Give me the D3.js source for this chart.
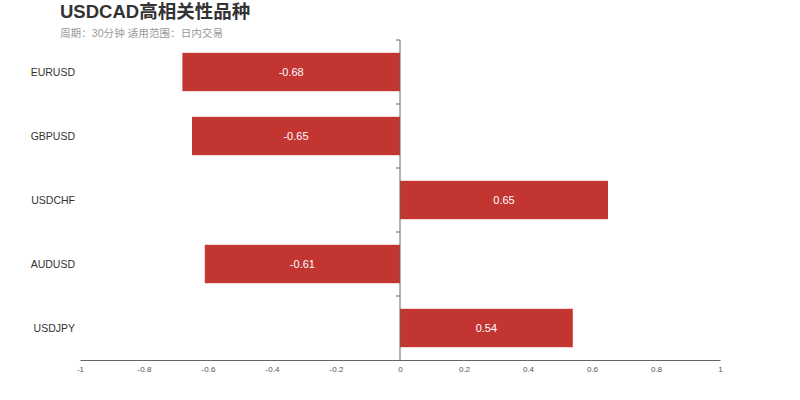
<!DOCTYPE html>
<html>
<head>
<meta charset="utf-8">
<script src="https://cdn.jsdelivr.net/npm/d3@7"></script>
<style>
  body { margin: 0; background: #fff; }
  svg { font-family: "Liberation Sans", Arial, "Noto Sans CJK SC", sans-serif; }
</style>
</head>
<body>
<svg id="chart" width="800" height="400"></svg>
<script>
// Chart values
const symbols = ["EURUSD", "GBPUSD", "USDCHF", "AUDUSD", "USDJPY"];
const correlations = [-0.68, -0.65, 0.65, -0.61, 0.54];
const xTicks = [-1, -0.8, -0.6, -0.4, -0.2, 0, 0.2, 0.4, 0.6, 0.8, 1];

const titleText = "USDCAD高相关性品种";
const subtitleText = "周期：30分钟 适用范围：日内交易";

const plotLeft = 80, plotRight = 720, plotTop = 40, plotBottom = 360;

const svg = d3.select("#chart");

const x = d3.scaleLinear().domain([-1, 1]).range([plotLeft, plotRight]);
const y = d3.scaleBand().domain(symbols).range([plotTop, plotBottom]).paddingInner(0.4).paddingOuter(0.2);

// Title
svg.append("text")
  .attr("x", 60).attr("y", 18)
  .attr("font-size", 18.5).attr("font-weight", "bold")
  .attr("fill", "#333")
  .text(titleText);

svg.append("text")
  .attr("x", 60).attr("y", 37)
  .attr("font-size", 10.6).attr("fill", "#999")
  .text(subtitleText);

// Bars
const rows = symbols.map((s, i) => ({ name: s, value: correlations[i] }));

svg.selectAll("rect.bar")
  .data(rows)
  .join("rect")
  .attr("class", "bar")
  .attr("x", d => x(Math.min(0, d.value)))
  .attr("y", d => y(d.name))
  .attr("width", d => Math.abs(x(d.value) - x(0)))
  .attr("height", y.bandwidth())
  .attr("fill", "#c23531");

svg.selectAll("text.val")
  .data(rows)
  .join("text")
  .attr("class", "val")
  .attr("x", d => (x(d.value) + x(0)) / 2)
  .attr("y", d => y(d.name) + y.bandwidth() / 2)
  .attr("dy", "0.35em")
  .attr("text-anchor", "middle")
  .attr("font-size", 11)
  .attr("fill", "#fff")
  .text(d => d.value);

// Category labels on the left
svg.selectAll("text.cat")
  .data(symbols)
  .join("text")
  .attr("class", "cat")
  .attr("x", 75)
  .attr("y", d => y(d) + y.bandwidth() / 2)
  .attr("dy", "0.35em")
  .attr("text-anchor", "end")
  .attr("font-size", 10.5)
  .attr("fill", "#333")
  .text(d => d);

// X axis (plain hyphen minus signs like the reference)
const xAxis = svg.append("g")
  .attr("transform", `translate(0,${plotBottom})`)
  .call(d3.axisBottom(x).tickValues(xTicks).tickSize(0).tickPadding(6).tickFormat(d => String(d)));
xAxis.select(".domain").attr("stroke", "#666");
xAxis.selectAll("text").attr("font-size", 8).attr("fill", "#555").attr("font-family", null);

// Y axis at zero with ticks at band boundaries
const boundaries = d3.range(symbols.length).map(i => plotTop + i * (plotBottom - plotTop) / symbols.length);
svg.append("line")
  .attr("x1", x(0)).attr("x2", x(0))
  .attr("y1", plotTop).attr("y2", plotBottom)
  .attr("stroke", "#666");
svg.selectAll("line.ytick")
  .data(boundaries)
  .join("line")
  .attr("class", "ytick")
  .attr("x1", x(0) - 4).attr("x2", x(0))
  .attr("y1", d => d).attr("y2", d => d)
  .attr("stroke", "#666");
</script>
</body>
</html>
